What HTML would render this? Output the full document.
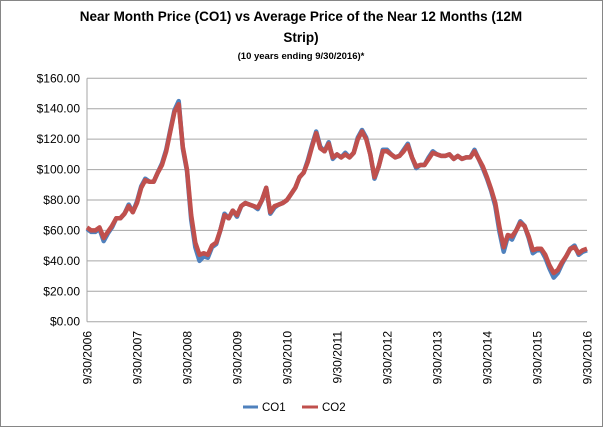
<!DOCTYPE html>
<html><head><meta charset="utf-8"><style>
html,body{margin:0;padding:0;background:#fff;}
svg{display:block;font-family:"Liberation Sans",sans-serif;}
</style></head><body>
<svg id="chart" width="603" height="427" viewBox="0 0 603 427">
<rect x="0.5" y="0.5" width="602" height="426" fill="#fff" stroke="#868686"/>
<text x="301" y="21" text-anchor="middle" font-size="13.5" font-weight="bold" fill="#000">Near Month Price (CO1) vs Average Price of the Near 12 Months (12M</text>
<text x="301" y="42" text-anchor="middle" font-size="13.5" font-weight="bold" fill="#000">Strip)</text>
<text x="301" y="59" text-anchor="middle" font-size="9.5" font-weight="bold" fill="#000">(10 years ending  9/30/2016)*</text>
<g id="grid"></g><g id="yticks"></g><g id="xticks"></g><g id="series"></g>
<g>
<line x1="243" y1="407" x2="258" y2="407" stroke="#4f81bd" stroke-width="3"/>
<text x="262" y="411" font-size="11.5">CO1</text>
<line x1="302" y1="407" x2="318" y2="407" stroke="#c0504d" stroke-width="3"/>
<text x="322" y="411" font-size="11.5">CO2</text>
</g>
</svg>
<script>
const yTicks=[0,20,40,60,80,100,120,140,160];
const xLabels=["9/30/2006","9/30/2007","9/30/2008","9/30/2009","9/30/2010","9/30/2011","9/30/2012","9/30/2013","9/30/2014","9/30/2015","9/30/2016"];
// monthly, Sep 2006 .. Sep 2016
const co2=[62,60,60,62, 55,59,63,68,68,71,76,72,78,88,93,92, 92,98,103,112,125,138,143,115,100,70,52,44, 45,44,50,52,60,70,68,73,70,76,78,77, 76,75,80,88,72,76,77,78,80,84,88,95, 98,105,115,124,114,112,117,108,110,108,110,108, 111,120,125,120,110,95,102,112,112,110,108,109, 112,116,108,102,103,103,107,111,110,109,109,110, 107,109,107,108,108,112,107,102,95,87,78,62, 49,57,56,60,65,63,56,47,48,48,44,37, 32,34,39,43,48,49,45,47,48];
const co1=[61,59,59,61, 53,58,62,68,68,71,77,72,79,89,94,92, 92,98,104,113,126,139,145,114,99,67,49,40, 43,42,49,51,60,71,68,73,69,76,78,77, 76,74,80,88,71,75,77,78,80,84,88,95, 98,106,116,125,115,112,118,107,110,108,111,108, 111,121,126,121,110,94,102,113,113,110,108,109, 113,117,108,101,103,103,108,112,110,109,109,110, 107,109,107,108,108,113,107,101,94,86,76,59, 46,56,54,60,66,63,55,45,47,47,42,35, 29,32,38,43,48,50,44,46,47];
const NS="http://www.w3.org/2000/svg";
const X0=87,X1=587,Y0=321.7,Y160=78.3;
function yScale(v){return Y0-(v/160)*(Y0-Y160);}
function xScale(i,n){return X0+(X1-X0)*i/(n-1);}
const grid=document.getElementById('grid'),yt=document.getElementById('yticks'),xt=document.getElementById('xticks'),ser=document.getElementById('series');
yTicks.forEach(v=>{
 const l=document.createElementNS(NS,'line');
 l.setAttribute('x1',X0);l.setAttribute('x2',X1);l.setAttribute('y1',yScale(v));l.setAttribute('y2',yScale(v));
 l.setAttribute('stroke','#a6a6a6');l.setAttribute('stroke-width','1');
 
 
 grid.appendChild(l);
 const t=document.createElementNS(NS,'text');
 t.setAttribute('x',80);t.setAttribute('y',yScale(v)+4);t.setAttribute('text-anchor','end');t.setAttribute('font-size','12');
 t.textContent='$'+v.toFixed(2);
 
 
 yt.appendChild(t);
});
const ax=document.createElementNS(NS,'line');
ax.setAttribute('x1',X0);ax.setAttribute('x2',X0);ax.setAttribute('y1',Y160);ax.setAttribute('y2',Y0);ax.setAttribute('stroke','#a6a6a6');


grid.appendChild(ax);
xLabels.forEach((s,i)=>{
 const x=xScale(i,xLabels.length);
 const t=document.createElementNS(NS,'text');
 t.setAttribute('transform','translate('+(x+4.5)+',331) rotate(-90)');
 t.setAttribute('text-anchor','end');t.setAttribute('font-size','12');
 t.textContent=s;
 
 
 xt.appendChild(t);
});
function path(arr,color,name){
 let d='';arr.forEach((v,i)=>{d+=(i?'L':'M')+xScale(i,arr.length).toFixed(1)+','+yScale(v).toFixed(1);});
 const p=document.createElementNS(NS,'path');
 p.setAttribute('d',d);p.setAttribute('fill','none');p.setAttribute('stroke',color);p.setAttribute('stroke-width','4.5');p.setAttribute('stroke-linejoin','round');
 
 
 ser.appendChild(p);
}
path(co1,'#4f81bd','co1-line');
path(co2,'#c0504d','co2-line');
</script>
</body></html>
